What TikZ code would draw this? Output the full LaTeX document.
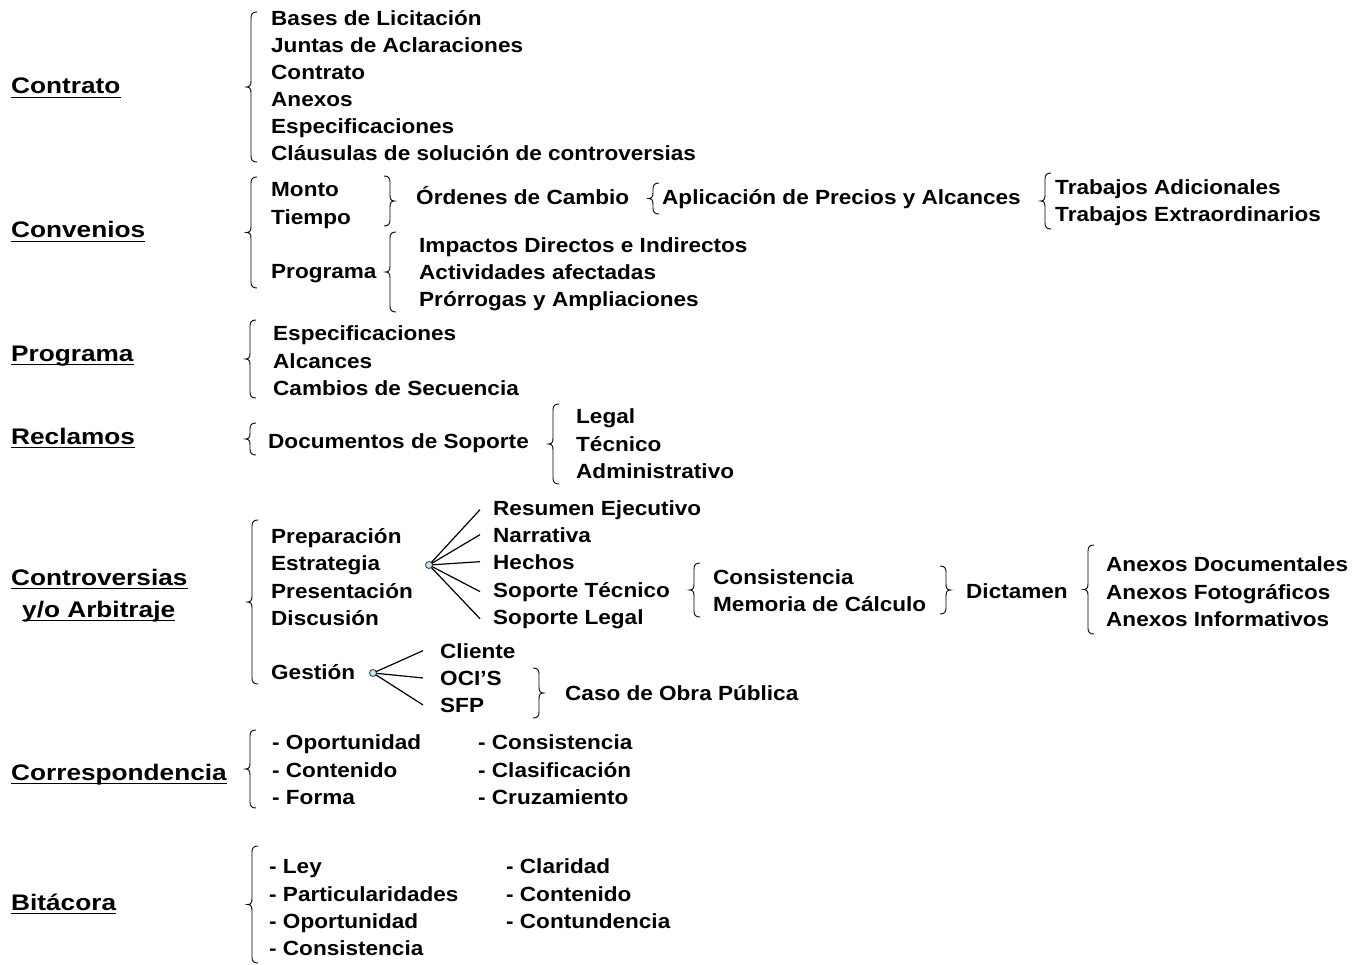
\documentclass[tikz,border=0pt]{standalone}
\usepackage{fontspec}
\setmainfont{Liberation Sans}[FakeStretch=1.10]
\newfontfamily\headfont{Liberation Sans}[FakeStretch=1.165]
\begin{document}
% curly brace: #1 x of the straight part, #2 top y, #3 bottom y, #4 = 1 for "{", -1 for "}"
\newcommand\drawBrace[4]{%
  \draw[bracestyle] ({#1+6*#4},#2) .. controls ({#1+1.5*#4},#2) and (#1,{#2+2}) .. (#1,{#2+6})
    -- (#1,{(#2+#3)/2-6}) .. controls (#1,{(#2+#3)/2-2}) and ({#1-1*#4},{(#2+#3)/2}) .. ({#1-4.5*#4},{(#2+#3)/2})
    .. controls ({#1-1*#4},{(#2+#3)/2}) and (#1,{(#2+#3)/2+2}) .. (#1,{(#2+#3)/2+6})
    -- (#1,{#3-6}) .. controls (#1,{#3-2}) and ({#1+1.5*#4},#3) .. ({#1+6*#4},#3);}
\begin{tikzpicture}[x=1pt,y=-1pt,
  item/.style={anchor=base west,inner sep=0pt,font=\fontsize{20.5}{23}\selectfont\bfseries},
  head/.style={anchor=base west,inner sep=0pt,font=\headfont\fontsize{22.5}{25}\selectfont\bfseries},
  uline/.style={line width=1.8pt},
  bracestyle/.style={line width=0.9pt},
  fan/.style={line width=1.2pt},
  hub/.style={circle,draw=black!80,line width=0.8pt,fill=cyan!25!white,inner sep=0pt,minimum size=7pt}]
\fill[white] (0,0) rectangle (1364,965);
\useasboundingbox (0,0) rectangle (1364,965);

% ---------- headings ----------
\node[head] (hContrato) at (11,94) {Contrato};
\node[head] (hConvenios) at (11,238) {Convenios};
\node[head] (hPrograma) at (11,361) {Programa};
\node[head] (hReclamos) at (11,444) {Reclamos};
\node[head] (hControv) at (11,585) {Controversias};
\node[head] (hArbitraje) at (22,617) {y/o Arbitraje};
\node[head] (hCorresp) at (11,780) {Correspondencia};
\node[head] (hBitacora) at (11,910) {Bitácora};
\foreach \h in {hContrato,hConvenios,hPrograma,hReclamos,hControv,hArbitraje,hCorresp,hBitacora}
  \draw[uline] ([yshift=-3.5pt]\h.base west) -- ([yshift=-3.5pt]\h.base east);

% ---------- Contrato ----------
\drawBrace{251}{12}{162}{1}
\node[item] (c1) at (271,26) {Bases de Licitación};
\node[item] (c2) at (271,53) {Juntas de Aclaraciones};
\node[item] (c3) at (271,80) {Contrato};
\node[item] (c4) at (271,107) {Anexos};
\node[item] (c5) at (271,134) {Especificaciones};
\node[item] (c6) at (271,161) {Cláusulas de solución de controversias};

% ---------- Convenios ----------
\drawBrace{251}{177}{288}{1}
\node[item] (monto) at (271,197) {Monto};
\node[item] (tiempo) at (271,225) {Tiempo};
\node[item] (cprog) at (271,279) {Programa};
\drawBrace{390}{176}{226}{-1}
\node[item] (ordenes) at (416,205) {Órdenes de Cambio};
\drawBrace{653}{183}{214}{1}
\node[item] (aplic) at (662,205) {Aplicación de Precios y Alcances};
\drawBrace{1045}{173}{229}{1}
\node[item] (tadic) at (1055,195) {Trabajos Adicionales};
\node[item] (textra) at (1055,222) {Trabajos Extraordinarios};
\drawBrace{390}{232}{312}{1}
\node[item] (imp) at (419,253) {Impactos Directos e Indirectos};
\node[item] (act) at (419,280) {Actividades afectadas};
\node[item] (pro) at (419,307) {Prórrogas y Ampliaciones};

% ---------- Programa ----------
\drawBrace{250}{320}{398}{1}
\node[item] (p1) at (273,340) {Especificaciones};
\node[item] (p2) at (273,368) {Alcances};
\node[item] (p3) at (273,395) {Cambios de Secuencia};

% ---------- Reclamos ----------
\drawBrace{250}{423}{455}{1}
\node[item] (docs) at (268,448) {Documentos de Soporte};
\drawBrace{553}{404}{484}{1}
\node[item] (legal) at (576,423) {Legal};
\node[item] (tecn) at (576,451) {Técnico};
\node[item] (admin) at (576,478) {Administrativo};

% ---------- Controversias y/o Arbitraje ----------
\drawBrace{252}{520}{684}{1}
\node[item] (prep) at (271,543) {Preparación};
\node[item] (estr) at (271,570) {Estrategia};
\node[item] (pres) at (271,598) {Presentación};
\node[item] (disc) at (271,625) {Discusión};
\node[item] (gest) at (271,679) {Gestión};

\node[item] (res) at (493,515) {Resumen Ejecutivo};
\node[item] (narr) at (493,542) {Narrativa};
\node[item] (hech) at (493,569) {Hechos};
\node[item] (stec) at (493,597) {Soporte Técnico};
\node[item] (sleg) at (493,624) {Soporte Legal};
\foreach \t in {res,narr,hech,stec,sleg}
  \draw[fan] (429,565) -- ([xshift=-13pt]\t.west);
\node[hub] (hubA) at (429,565) {};

\drawBrace{694}{563}{617}{1}
\node[item] (cons) at (713,584) {Consistencia};
\node[item] (mem) at (713,611) {Memoria de Cálculo};
\drawBrace{946}{566}{614}{-1}
\node[item] (dict) at (966,598) {Dictamen};
\drawBrace{1088}{545}{634}{1}
\node[item] (ax1) at (1106,571) {Anexos Documentales};
\node[item] (ax2) at (1106,599) {Anexos Fotográficos};
\node[item] (ax3) at (1106,626) {Anexos Informativos};

\node[item] (cli) at (440,658) {Cliente};
\node[item] (oci) at (440,685) {OCI’S};
\node[item] (sfp) at (440,712) {SFP};
\foreach \t in {cli,oci,sfp}
  \draw[fan] (373,673) -- ([xshift=-17pt]\t.west);
\node[hub] (hubB) at (373,673) {};
\drawBrace{539}{668}{718}{-1}
\node[item] (caso) at (565,700) {Caso de Obra Pública};

% ---------- Correspondencia ----------
\drawBrace{250}{730}{808}{1}
\node[item] (r1) at (272,749) {- Oportunidad};
\node[item] (r2) at (272,777) {- Contenido};
\node[item] (r3) at (272,804) {- Forma};
\node[item] (r4) at (478,749) {- Consistencia};
\node[item] (r5) at (478,777) {- Clasificación};
\node[item] (r6) at (478,804) {- Cruzamiento};

% ---------- Bitácora ----------
\drawBrace{252}{846}{963}{1}
\node[item] (b1) at (269,873) {- Ley};
\node[item] (b2) at (269,901) {- Particularidades};
\node[item] (b3) at (269,928) {- Oportunidad};
\node[item] (b4) at (269,955) {- Consistencia};
\node[item] (b5) at (506,873) {- Claridad};
\node[item] (b6) at (506,901) {- Contenido};
\node[item] (b7) at (506,928) {- Contundencia};
\end{tikzpicture}
\end{document}
